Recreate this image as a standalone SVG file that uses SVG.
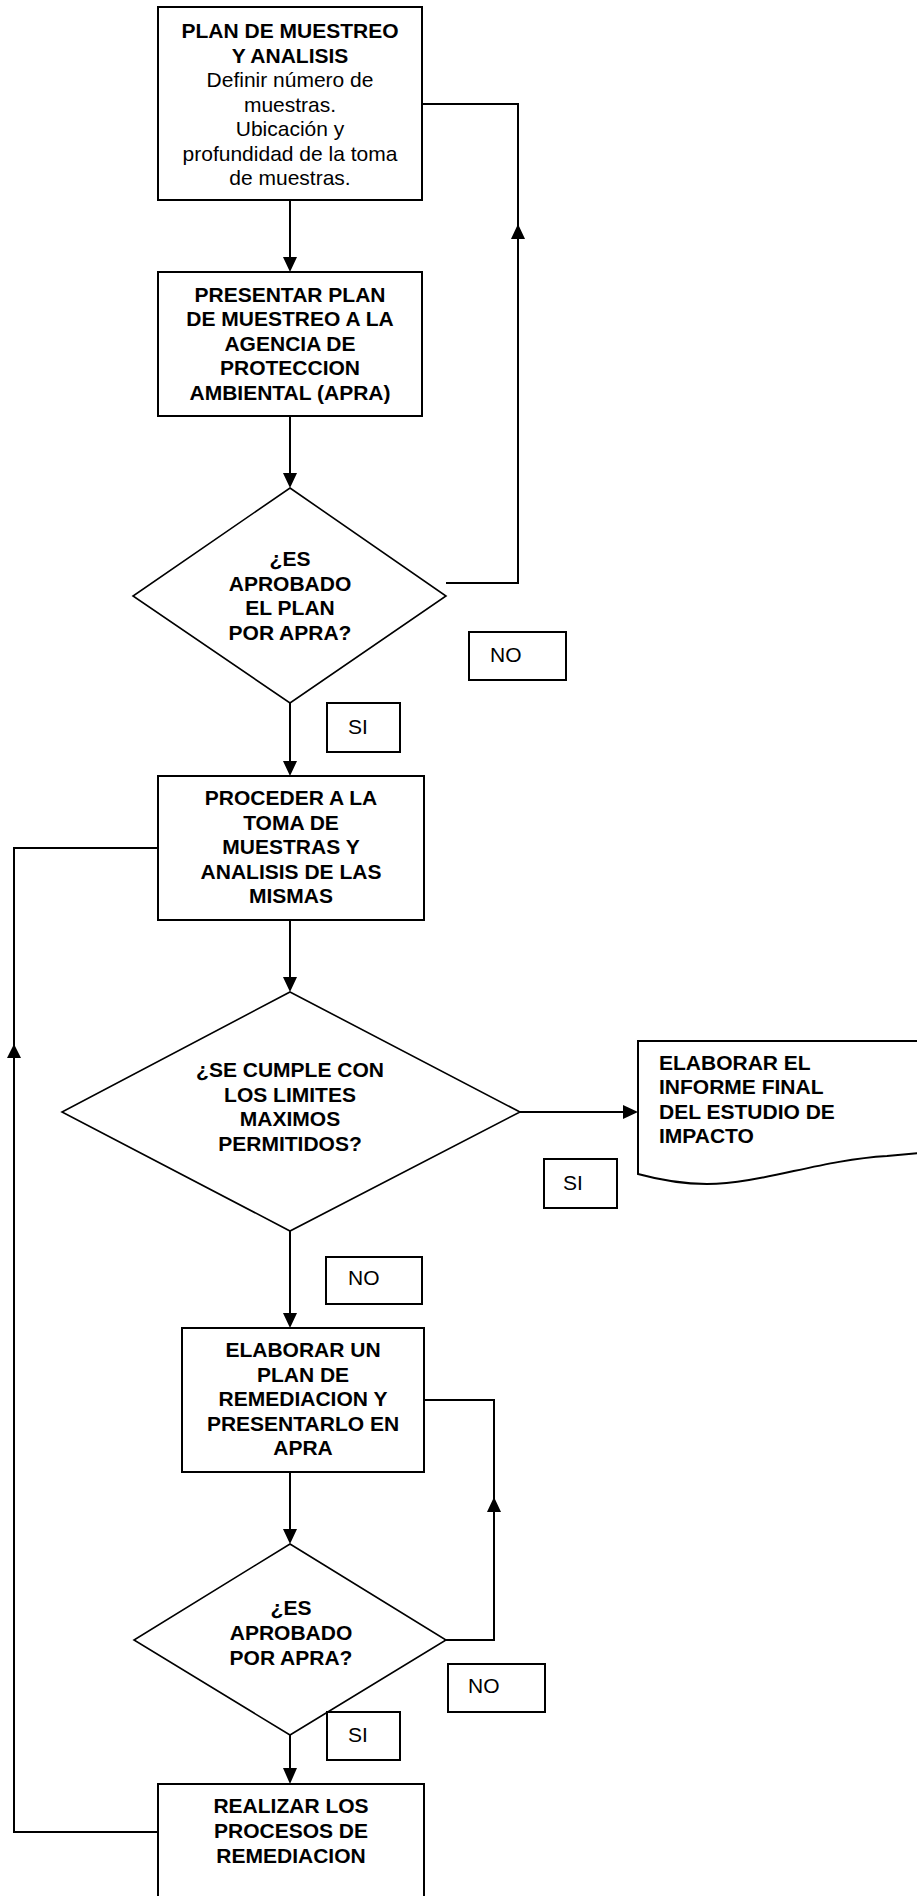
<svg xmlns="http://www.w3.org/2000/svg" width="917" height="1896" viewBox="0 0 917 1896">
<style>
.box{fill:#fff;stroke:#000;stroke-width:2}
.dia{fill:#fff;stroke:#000;stroke-width:1.6}
.ln{fill:none;stroke:#000;stroke-width:2}
.ah{fill:#000;stroke:none}
text{font-family:"Liberation Sans",Arial,sans-serif;font-size:21px;fill:#000}
.b{font-weight:bold}
.c{text-anchor:middle}
</style>
<rect width="917" height="1896" fill="#fff"/>
<g id="connectors">
<line class="ln" x1="290" y1="200" x2="290" y2="258"/>
<polygon class="ah" points="283,257 297,257 290,272"/>
<line class="ln" x1="290" y1="416" x2="290" y2="474"/>
<polygon class="ah" points="283,473 297,473 290,488"/>
<polyline class="ln" points="446,583 518,583 518,104 422,104"/>
<polygon class="ah" points="511,239 525,239 518,224"/>
<line class="ln" x1="290" y1="703" x2="290" y2="762"/>
<polygon class="ah" points="283,761 297,761 290,776"/>
<line class="ln" x1="290" y1="920" x2="290" y2="978"/>
<polygon class="ah" points="283,977 297,977 290,992"/>
<line class="ln" x1="520" y1="1112" x2="624" y2="1112"/>
<polygon class="ah" points="623,1105 623,1119 638,1112"/>
<line class="ln" x1="290" y1="1231" x2="290" y2="1314"/>
<polygon class="ah" points="283,1313 297,1313 290,1328"/>
<line class="ln" x1="290" y1="1472" x2="290" y2="1530"/>
<polygon class="ah" points="283,1529 297,1529 290,1544"/>
<polyline class="ln" points="446,1640 494,1640 494,1400 424,1400"/>
<polygon class="ah" points="487,1512 501,1512 494,1497"/>
<line class="ln" x1="290" y1="1735" x2="290" y2="1769"/>
<polygon class="ah" points="283,1768 297,1768 290,1784"/>
<polyline class="ln" points="158,1832 14,1832 14,848 158,848"/>
<polygon class="ah" points="7,1058 21,1058 14,1044"/>
</g>
<g id="n1">
<rect class="box" x="158" y="7" width="264" height="193"/>
<text class="b c" x="290" y="38">PLAN DE MUESTREO</text>
<text class="b c" x="290" y="62.5">Y ANALISIS</text>
<text class="c" x="290" y="87">Definir número de</text>
<text class="c" x="290" y="111.5">muestras.</text>
<text class="c" x="290" y="136">Ubicación y</text>
<text class="c" x="290" y="160.5">profundidad de la toma</text>
<text class="c" x="290" y="185">de muestras.</text>
</g>
<g id="n2">
<rect class="box" x="158" y="272" width="264" height="144"/>
<text class="b c" x="290" y="301.5">PRESENTAR PLAN</text>
<text class="b c" x="290" y="326">DE MUESTREO A LA</text>
<text class="b c" x="290" y="350.5">AGENCIA DE</text>
<text class="b c" x="290" y="375">PROTECCION</text>
<text class="b c" x="290" y="399.5">AMBIENTAL (APRA)</text>
</g>
<g id="d1">
<polygon class="dia" points="290,488 446,596 290,703 133,596"/>
<text class="b c" x="290" y="566">¿ES</text>
<text class="b c" x="290" y="590.5">APROBADO</text>
<text class="b c" x="290" y="615">EL PLAN</text>
<text class="b c" x="290" y="639.5">POR APRA?</text>
</g>
<g id="l_no1">
<rect class="box" x="469" y="632" width="97" height="48"/>
<text x="490" y="662">NO</text>
</g>
<g id="l_si1">
<rect class="box" x="327" y="703" width="73" height="49"/>
<text x="348" y="734">SI</text>
</g>
<g id="n3">
<rect class="box" x="158" y="776" width="266" height="144"/>
<text class="b c" x="291" y="805">PROCEDER A LA</text>
<text class="b c" x="291" y="829.5">TOMA DE</text>
<text class="b c" x="291" y="854">MUESTRAS Y</text>
<text class="b c" x="291" y="878.5">ANALISIS DE LAS</text>
<text class="b c" x="291" y="903">MISMAS</text>
</g>
<g id="d2">
<polygon class="dia" points="290,992 520,1112 290,1231 62,1112"/>
<text class="b c" x="290" y="1077">¿SE CUMPLE CON</text>
<text class="b c" x="290" y="1101.5">LOS LIMITES</text>
<text class="b c" x="290" y="1126">MAXIMOS</text>
<text class="b c" x="290" y="1150.5">PERMITIDOS?</text>
</g>
<g id="n_doc">
<path class="box" d="M638,1041 L930,1041 L930,1152 L887,1156 C820,1160 760,1184 707,1184 C680,1184 660,1180 638,1174 Z"/>
<text class="b" x="659" y="1069.5">ELABORAR EL</text>
<text class="b" x="659" y="1094">INFORME FINAL</text>
<text class="b" x="659" y="1118.5">DEL ESTUDIO DE</text>
<text class="b" x="659" y="1143">IMPACTO</text>
</g>
<g id="l_si2">
<rect class="box" x="544" y="1159" width="73" height="49"/>
<text x="563" y="1190">SI</text>
</g>
<g id="l_no2">
<rect class="box" x="326" y="1257" width="96" height="47"/>
<text x="348" y="1285">NO</text>
</g>
<g id="n4">
<rect class="box" x="182" y="1328" width="242" height="144"/>
<text class="b c" x="303" y="1357">ELABORAR UN</text>
<text class="b c" x="303" y="1381.5">PLAN DE</text>
<text class="b c" x="303" y="1406">REMEDIACION Y</text>
<text class="b c" x="303" y="1430.5">PRESENTARLO EN</text>
<text class="b c" x="303" y="1455">APRA</text>
</g>
<g id="d3">
<polygon class="dia" points="290,1544 446,1640 290,1735 134,1640"/>
<text class="b c" x="291" y="1615">¿ES</text>
<text class="b c" x="291" y="1640">APROBADO</text>
<text class="b c" x="291" y="1665">POR APRA?</text>
</g>
<g id="l_no3">
<rect class="box" x="448" y="1664" width="97" height="48"/>
<text x="468" y="1693">NO</text>
</g>
<g id="l_si3">
<rect class="box" x="327" y="1712" width="73" height="48"/>
<text x="348" y="1742">SI</text>
</g>
<g id="n5">
<rect class="box" x="158" y="1784" width="266" height="140"/>
<text class="b c" x="291" y="1813">REALIZAR LOS</text>
<text class="b c" x="291" y="1838">PROCESOS DE</text>
<text class="b c" x="291" y="1863">REMEDIACION</text>
</g>
</svg>
